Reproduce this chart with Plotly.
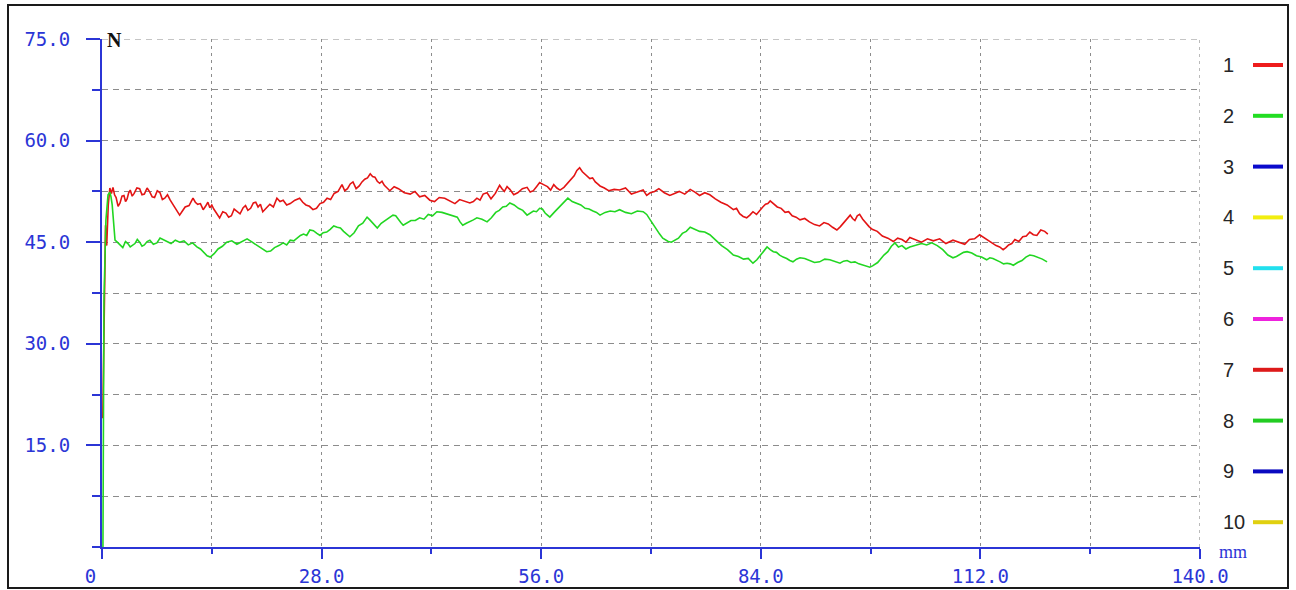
import plotly.graph_objects as go

# ---------------- data ----------------
red_mm = [0.1, 0.3, 0.45, 0.6, 0.8, 1.0, 1.2, 1.4, 1.6, 1.8, 2.05, 2.3, 2.55, 2.8, 3.0, 3.2, 3.4, 3.6, 3.85,
          4.1, 4.45, 4.8, 5.1, 5.4, 5.75, 6.1, 6.4, 6.7, 7.05, 7.4, 7.7, 8.0, 8.35, 8.7, 9.0, 9.3, 9.6, 9.9,
          10.25, 10.6, 11.1, 11.6, 11.9, 12.2, 12.55, 12.9, 13.2, 13.5, 13.75, 14.0, 14.25, 14.5, 14.75,
          15.0, 15.4, 15.8, 16.15, 16.5, 16.85, 17.2, 17.6, 18.0, 18.3, 18.6, 18.95, 19.3, 19.6, 19.9,
          20.2, 20.5, 20.95, 21.4, 21.85, 22.3, 22.7, 23.1, 23.55, 24.0, 24.6, 25.2, 25.6, 26.0, 26.45,
          26.9, 27.35, 27.8, 28.25, 28.7, 29.15, 29.6, 30.1, 30.6, 30.95, 31.3, 31.65, 32.0, 32.4, 32.8,
          33.15, 33.5, 33.85, 34.2, 34.5, 34.8, 35.1, 35.4, 35.7, 36.0, 36.35, 36.7, 37.25, 37.8, 38.55,
          39.3, 39.9, 40.5, 41.15, 41.8, 42.4, 43.0, 43.7, 44.4, 45.0, 45.6, 46.25, 46.9, 47.35, 47.8,
          48.2, 48.6, 49.1, 49.6, 50.15, 50.7, 51.0, 51.3, 51.65, 52.0, 52.5, 53.0, 53.6, 54.2, 54.6,
          55.0, 55.4, 55.8, 56.3, 56.8, 57.2, 57.6, 58.0, 58.4, 58.9, 59.4, 59.8, 60.2, 60.55, 60.9,
          61.25, 61.6, 61.9, 62.2, 62.55, 62.9, 63.2, 63.5, 64.05, 64.6, 65.3, 66.0, 66.75, 67.5, 68.25,
          69.0, 69.45, 69.9, 70.45, 71.0, 71.7, 72.4, 73.0, 73.6, 74.3, 75.0, 75.6, 76.2, 76.85, 77.5,
          78.2, 78.9, 79.7, 80.5, 80.9, 81.3, 81.75, 82.2, 82.6, 83.0, 83.45, 83.9, 84.25, 84.6, 84.9,
          85.2, 85.65, 86.1, 86.6, 87.1, 87.55, 88.0, 88.5, 89.0, 89.6, 90.2, 90.85, 91.5, 92.05, 92.6,
          93.15, 93.7, 94.15, 94.6, 95.0, 95.4, 95.7, 96.0, 96.3, 96.6, 97.0, 97.4, 97.8, 98.2, 98.85,
          99.5, 100.2, 100.9, 101.45, 102.0, 102.5, 103.0, 103.75, 104.5, 105.25, 106.0, 106.8, 107.6,
          108.5, 109.4, 110.0, 110.6, 111.25, 111.9, 112.55, 113.2, 113.6, 114.0, 114.45, 114.9, 115.25,
          115.6, 116.0, 116.4, 116.9, 117.4, 117.85, 118.3, 118.75, 119.2, 119.7, 120.2, 120.6]
red_n = [19.0, 41.0, 47.5, 44.5, 50.5, 53.0, 52.2, 53.1, 52.0, 51.6, 50.3, 50.8, 51.8, 51.9, 51.0, 51.4, 52.3,
         52.7, 51.8, 52.2, 53.0, 52.9, 52.0, 52.1, 53.0, 52.4, 51.7, 51.6, 52.6, 52.3, 51.3, 51.5, 52.0,
         51.2, 50.6, 50.1, 49.4, 49.0, 49.6, 50.2, 50.4, 51.5, 50.9, 50.6, 50.7, 49.8, 50.3, 50.9, 50.1,
         50.5, 49.9, 49.4, 48.9, 48.6, 49.5, 49.3, 48.7, 48.9, 49.9, 49.6, 49.2, 50.1, 50.4, 49.7, 50.0,
         50.8, 50.9, 50.2, 50.6, 49.5, 50.0, 50.6, 50.2, 51.5, 51.0, 51.2, 50.5, 50.7, 51.2, 51.5, 50.9,
         50.5, 50.3, 49.8, 50.0, 50.7, 50.9, 51.5, 51.3, 52.2, 52.5, 53.5, 52.6, 52.9, 53.6, 53.9, 52.9,
         53.3, 53.9, 54.3, 54.5, 55.1, 54.7, 54.6, 54.0, 53.7, 54.0, 53.4, 53.0, 52.6, 53.2, 52.9, 52.3,
         52.1, 52.5, 51.7, 51.9, 51.2, 51.0, 51.6, 51.5, 51.0, 50.7, 51.3, 51.1, 50.8, 51.0, 51.5, 51.2,
         52.1, 52.3, 51.4, 52.2, 53.4, 52.9, 52.5, 53.2, 52.8, 52.0, 52.3, 52.9, 53.1, 52.4, 52.6, 53.2,
         53.8, 53.5, 53.2, 52.7, 53.5, 53.0, 52.7, 53.1, 53.8, 54.2, 54.8, 55.6, 56.0, 55.4, 55.0, 54.8,
         54.4, 54.5, 53.9, 53.6, 53.3, 53.0, 52.6, 52.8, 52.7, 53.0, 52.1, 52.4, 52.7, 51.9, 52.3, 52.5,
         52.9, 52.3, 51.9, 52.2, 52.5, 52.1, 52.8, 52.4, 51.9, 52.3, 52.0, 51.4, 50.9, 50.5, 49.8, 50.0,
         49.2, 48.8, 48.6, 49.0, 49.5, 49.1, 49.8, 50.2, 50.6, 50.7, 51.1, 50.6, 50.2, 50.0, 49.4, 49.5,
         48.9, 48.7, 48.3, 48.5, 48.0, 47.6, 47.4, 47.9, 47.7, 47.2, 46.8, 47.3, 47.9, 48.6, 49.0, 48.5,
         48.2, 48.9, 49.1, 48.4, 47.8, 47.3, 46.9, 46.6, 45.9, 45.6, 45.1, 45.6, 45.4, 45.0, 45.7, 45.3,
         45.0, 45.5, 45.2, 45.5, 44.8, 45.3, 45.0, 44.7, 45.4, 45.5, 46.1, 45.6, 45.1, 44.9, 44.5, 44.3,
         43.9, 44.2, 44.6, 44.8, 45.4, 45.1, 45.8, 45.9, 46.5, 46.1, 46.0, 46.8, 46.6, 46.2]

green_mm = [0.12, 0.15, 0.25, 0.5, 0.77, 1.0, 1.15, 1.3, 1.66, 1.95, 2.3, 2.65, 3.0, 3.3, 3.6, 3.9, 4.2, 4.5,
            4.8, 5.1, 5.4, 5.75, 6.1, 6.55, 7.0, 7.4, 7.8, 8.3, 8.8, 9.35, 9.9, 10.45, 11.0, 11.55, 12.1,
            12.55, 13.0, 13.4, 13.8, 14.3, 14.8, 15.35, 15.9, 16.55, 17.2, 17.85, 18.5, 19.15, 19.8, 20.4,
            21.0, 21.5, 22.0, 22.55, 23.1, 23.55, 24.0, 24.45, 24.9, 25.3, 25.7, 26.1, 26.5, 26.95, 27.4,
            27.8, 28.2, 28.65, 29.1, 29.55, 30.0, 30.4, 30.8, 31.2, 31.6, 32.15, 32.7, 33.25, 33.8, 34.15,
            34.5, 34.8, 35.1, 35.6, 36.1, 36.6, 37.1, 37.45, 37.8, 38.1, 38.4, 38.9, 39.4, 39.95, 40.5,
            41.05, 41.6, 42.15, 42.7, 43.35, 44.0, 44.65, 45.3, 45.65, 46.0, 46.45, 46.9, 47.35, 47.8,
            48.45, 49.1, 49.65, 50.2, 50.65, 51.1, 51.55, 52.0, 52.55, 53.1, 53.65, 54.2, 54.6, 55.0, 55.4,
            55.8, 56.15, 56.5, 56.8, 57.1, 57.65, 58.2, 58.8, 59.4, 59.95, 60.5, 61.05, 61.6, 62.1, 62.6,
            63.05, 63.5, 64.15, 64.8, 65.4, 66.0, 66.75, 67.5, 68.25, 69.0, 69.45, 69.9, 70.3, 70.7, 71.1,
            71.5, 71.85, 72.2, 72.6, 73.0, 73.5, 74.0, 74.5, 75.0, 75.6, 76.2, 76.85, 77.5, 78.25, 79.0,
            79.75, 80.5, 81.15, 81.8, 82.4, 83.0, 83.5, 84.0, 84.4, 84.8, 85.2, 85.6, 86.0, 86.4, 86.85,
            87.3, 87.7, 88.1, 88.55, 89.0, 89.6, 90.2, 90.85, 91.5, 92.15, 92.8, 93.45, 94.1, 94.55, 95.0,
            95.5, 96.0, 96.5, 97.0, 97.45, 97.9, 98.25, 98.6, 98.9, 99.2, 99.7, 100.2, 100.65, 101.1,
            101.55, 102.0, 102.5, 103.0, 103.75, 104.5, 105.15, 105.8, 106.5, 107.2, 107.85, 108.5,
            108.95, 109.4, 109.85, 110.3, 110.9, 111.5, 112.15, 112.8, 113.2, 113.6, 114.05, 114.5,
            114.95, 115.4, 115.8, 116.2, 116.75, 117.3, 117.8, 118.3, 118.8, 119.3, 119.9, 120.5]
green_n = [0.0, 18.7, 36.5, 48.3, 52.0, 52.4, 51.7, 50.5, 45.3, 45.0, 44.6, 44.2, 45.1, 44.8, 44.3, 44.6,
           44.8, 45.4, 45.0, 44.4, 44.6, 45.1, 45.3, 44.7, 44.9, 45.6, 45.4, 45.1, 44.8, 45.3, 45.0, 45.2,
           44.6, 44.9, 44.3, 44.0, 43.5, 43.0, 42.8, 43.3, 44.0, 44.4, 45.0, 45.2, 44.7, 45.1, 45.5, 45.0,
           44.5, 44.1, 43.6, 43.7, 44.2, 44.5, 44.9, 44.6, 45.3, 45.2, 45.6, 46.0, 46.2, 46.0, 46.8, 46.7,
           46.3, 46.0, 46.4, 46.5, 46.9, 47.4, 47.2, 47.1, 46.6, 46.2, 45.8, 46.4, 47.4, 47.8, 48.7, 48.3,
           47.8, 47.5, 47.1, 47.8, 48.2, 48.6, 49.0, 48.9, 48.3, 47.9, 47.5, 47.9, 48.2, 48.2, 48.6, 48.4,
           49.1, 48.9, 49.5, 49.4, 49.2, 48.9, 48.7, 48.0, 47.5, 47.8, 48.0, 48.3, 48.6, 48.4, 48.0, 48.6,
           49.4, 49.7, 50.2, 50.3, 50.8, 50.5, 50.0, 49.7, 49.0, 49.3, 49.6, 49.5, 50.0, 49.9, 49.3, 49.0,
           48.7, 49.4, 50.1, 50.8, 51.5, 51.0, 50.8, 50.5, 50.0, 49.9, 49.6, 49.4, 49.0, 49.4, 49.6, 49.5,
           49.8, 49.4, 49.2, 49.6, 49.5, 49.1, 48.3, 47.6, 46.8, 46.2, 45.6, 45.4, 45.1, 45.0, 45.3, 45.6,
           46.3, 46.6, 47.2, 46.9, 46.6, 46.5, 46.1, 45.3, 44.5, 43.9, 43.1, 42.9, 42.5, 42.6, 41.9, 42.4,
           43.2, 43.7, 44.3, 43.9, 43.6, 43.5, 43.1, 42.8, 42.6, 42.3, 42.1, 42.5, 42.7, 42.6, 42.3, 42.0,
           42.1, 42.5, 42.4, 42.2, 41.9, 42.2, 42.3, 42.0, 42.1, 41.8, 41.6, 41.5, 41.3, 41.5, 41.8, 42.0,
           42.4, 43.1, 43.6, 44.4, 44.9, 44.3, 44.5, 44.0, 44.3, 44.5, 44.8, 44.6, 44.9, 44.5, 43.9, 43.1,
           42.7, 42.9, 43.2, 43.5, 43.6, 43.4, 43.0, 42.8, 42.4, 42.7, 42.6, 42.4, 42.1, 41.8, 41.9, 41.8,
           41.6, 42.0, 42.3, 42.8, 43.1, 43.0, 42.8, 42.5, 42.1]

x_tickvals = [0, 28, 56, 84, 112, 140]
x_ticktext = ["0\u00a0\u00a0", "28.0", "56.0", "84.0", "112.0", "140.0"]
y_tickvals = [15, 30, 45, 60, 75]
y_ticktext = ["15.0", "30.0", "45.0", "60.0", "75.0"]

legend_labels = ["1", "2", "3", "4", "5", "6", "7", "8", "9", "10"]
legend_colors = ["#ee1c1c", "#22dd22", "#0a0acc", "#f2ee10", "#22e0ee",
                 "#ee22dd", "#dd1a1a", "#22cc22", "#0a0ac0", "#e0d010"]

# ---------------- layout geometry (pixels) ----------------
W, H = 1296, 590
L, R, T, B = 102, 1200, 39, 547
AXIS_BLUE = "#2b35d6"
GRID = "#8c8c8c"


def px(xp):
    return (xp - L) / (R - L)


def py(yp):
    return (B - yp) / (B - T)


fig = go.Figure()
fig.add_trace(go.Scatter(x=red_mm, y=red_n, mode="lines",
                         line=dict(color="#e31414", width=1.6), showlegend=False))
fig.add_trace(go.Scatter(x=green_mm, y=green_n, mode="lines",
                         line=dict(color="#22d622", width=1.6), showlegend=False))

fig.update_layout(
    width=W, height=H,
    margin=dict(l=L, r=W - R, t=T, b=H - B, pad=0, autoexpand=False),
    paper_bgcolor="white", plot_bgcolor="white",
    showlegend=False,
    xaxis=dict(
        range=[0, 140], tickvals=x_tickvals, ticktext=x_ticktext, automargin=False,
        showline=True, linecolor=AXIS_BLUE, linewidth=2,
        ticks="outside", ticklen=10, tickwidth=2, tickcolor=AXIS_BLUE,
        ticklabelstandoff=1,
        tickfont=dict(family="DejaVu Sans Mono", size=19, color=AXIS_BLUE),
        showgrid=True, gridcolor=GRID, gridwidth=1.2, griddash="3px,4px",
        minor=dict(dtick=14, tick0=0, ticks="outside", ticklen=5, tickwidth=1.5,
                   tickcolor=AXIS_BLUE, showgrid=True, gridcolor=GRID,
                   gridwidth=1.2, griddash="3px,4px"),
        zeroline=False, layer="below traces", fixedrange=True,
    ),
    yaxis=dict(
        range=[0, 75], tickvals=y_tickvals, ticktext=y_ticktext, automargin=False,
        showline=True, linecolor=AXIS_BLUE, linewidth=2,
        ticks="outside", ticklen=14, tickwidth=2, tickcolor=AXIS_BLUE,
        ticklabelstandoff=12,
        tickfont=dict(family="DejaVu Sans Mono", size=19, color=AXIS_BLUE),
        showgrid=True, gridcolor=GRID, gridwidth=1.2, griddash="6px,5px",
        minor=dict(dtick=7.5, tick0=0, ticks="outside", ticklen=8, tickwidth=2,
                   tickcolor=AXIS_BLUE, showgrid=True, gridcolor=GRID,
                   gridwidth=1.2, griddash="6px,5px"),
        zeroline=False, layer="below traces", fixedrange=True,
    ),
)

shapes = []
annotations = []
# outer frame
shapes.append(dict(type="rect", xref="paper", yref="paper",
                   x0=px(8), x1=px(1288), y0=py(588), y1=py(5),
                   line=dict(color="#1a1a1a", width=2), fillcolor="rgba(0,0,0,0)"))
# grid lines at the far ends of the axes (top and right)
shapes.append(dict(type="line", xref="x", yref="y", layer="below",
                   x0=x_tickvals[0], x1=x_tickvals[-1], y0=y_tickvals[-1], y1=y_tickvals[-1],
                   line=dict(color=GRID, width=1.2, dash="6px,5px")))
shapes.append(dict(type="line", xref="x", yref="y", layer="below",
                   x0=x_tickvals[-1], x1=x_tickvals[-1], y0=0, y1=y_tickvals[-1],
                   line=dict(color=GRID, width=1.2, dash="3px,4px")))

# legend column (numbers + short coloured lines)
for i, (lab, col) in enumerate(zip(legend_labels, legend_colors)):
    yc = 65 + i * 50.8
    shapes.append(dict(type="line", xref="paper", yref="paper",
                       x0=px(1253), x1=px(1283), y0=py(yc), y1=py(yc),
                       line=dict(color=col, width=4)))
    annotations.append(dict(text=lab, xref="paper", yref="paper",
                            x=px(1221), y=py(yc), xanchor="left", yanchor="middle",
                            showarrow=False,
                            font=dict(family="Liberation Sans", size=20, color="#262626")))

# axis unit labels
annotations.append(dict(text="<b>N</b>", xref="paper", yref="paper", x=px(105), y=py(40),
                        xanchor="left", yanchor="middle", showarrow=False,
                        font=dict(family="Liberation Serif", size=20, color="#111111")))
annotations.append(dict(text="mm", xref="paper", yref="paper", x=px(1233), y=py(552),
                        xanchor="center", yanchor="middle", showarrow=False,
                        font=dict(family="Liberation Serif", size=18, color=AXIS_BLUE)))

fig.update_layout(shapes=shapes, annotations=annotations)
fig.write_html("out.html", config={"displayModeBar": False},
               post_script="document.body.style.margin='0';document.body.style.overflow='hidden';")
